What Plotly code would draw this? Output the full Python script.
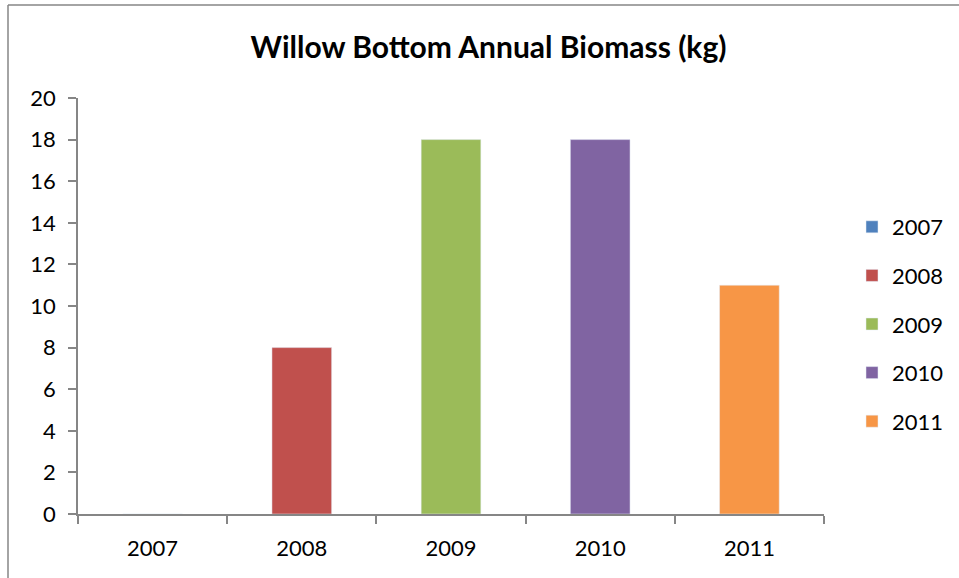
import plotly.graph_objects as go

years = ["2007", "2008", "2009", "2010", "2011"]
biomass = [0, 8, 18, 18, 11]
colors = ["#4F81BD", "#C0504D", "#9BBB59", "#8064A2", "#F79646"]
y_ticks = [0, 2, 4, 6, 8, 10, 12, 14, 16, 18, 20]

FONT = "Lato, 'Open Sans', sans-serif"

fig = go.Figure()
for yr, val, col in zip(years, biomass, colors):
    fig.add_trace(go.Bar(
        x=[yr], y=[val], name=yr, marker_color=col, width=0.4,
        legendgroup=yr, hoverinfo="x+y",
    ))

L, R, T, B = 78, 135, 98, 64
W, H = 959, 578
pw, ph = W - L - R, H - T - B

def px_x(p):
    return (p - L) / pw

def px_y(p):
    return (H - B - p) / ph

border = dict(color="#868686", width=1.5)

fig.update_layout(
    width=W, height=H,
    margin=dict(l=L, r=R, t=T, b=B, autoexpand=False),
    paper_bgcolor="white", plot_bgcolor="white",
    barmode="overlay",
    font=dict(family=FONT, size=22, color="black"),
    title=dict(text="<b>Willow Bottom Annual Biomass (kg)</b>",
               x=488.5 / W, xanchor="center", y=1 - 47 / H, yanchor="middle",
               yref="container", font=dict(family=FONT, size=30, color="black")),
    xaxis=dict(type="category", categoryorder="array", categoryarray=years,
               showline=True, linecolor="#868686", linewidth=1.5,
               ticks="outside", ticklen=8, tickcolor="#868686", tickwidth=1.5,
               tickson="boundaries", showgrid=False, ticklabelstandoff=14,
               range=[-0.5, 4.5]),
    yaxis=dict(range=[0, 20], tickvals=y_ticks, showline=True,
               linecolor="#868686", linewidth=1.5, ticks="outside", ticklen=8,
               tickcolor="#868686", tickwidth=1.5, showgrid=False,
               zeroline=False, ticklabelstandoff=8),
    legend=dict(x=px_x(852), xanchor="left", y=px_y(206), yanchor="top",
                font=dict(family=FONT, size=22), tracegroupgap=17,
                itemwidth=30, bgcolor="rgba(0,0,0,0)"),
    showlegend=True,
    shapes=[
        dict(type="line", xref="paper", yref="paper",
             x0=px_x(8), x1=px_x(8), y0=px_y(5), y1=px_y(700), line=border),
        dict(type="line", xref="paper", yref="paper",
             x0=px_x(8), x1=px_x(1100), y0=px_y(5), y1=px_y(5), line=border),
    ],
)

fig.write_html("out.html", config={"displayModeBar": False},
               post_script="document.body.style.margin='0px';")
